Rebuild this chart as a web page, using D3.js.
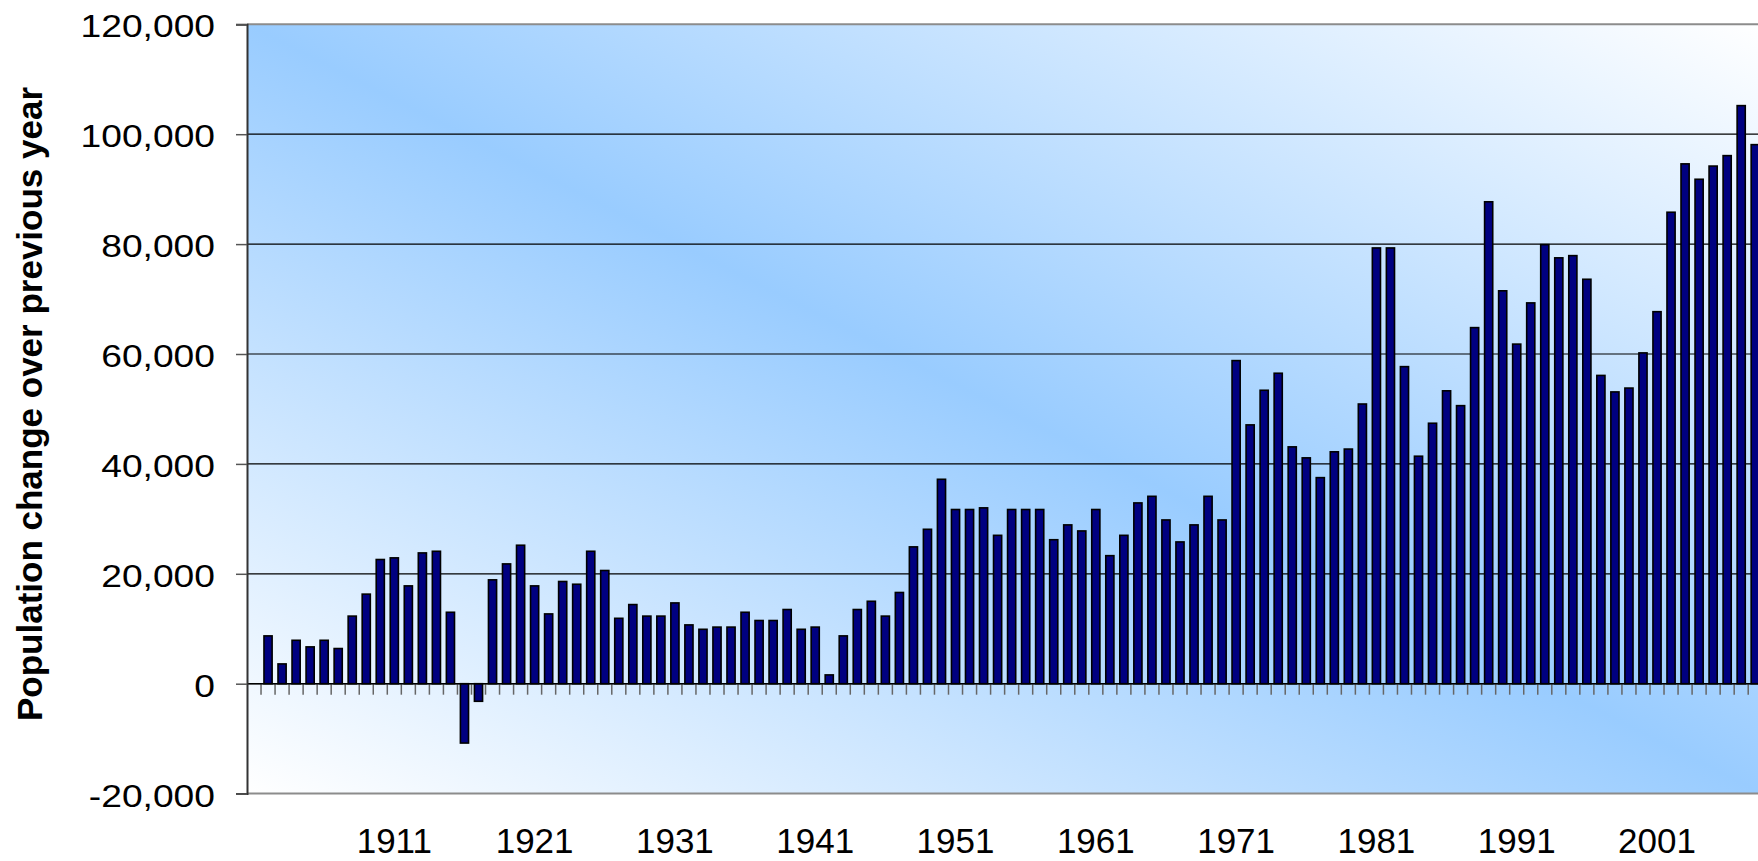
<!DOCTYPE html>
<html>
<head>
  <meta charset="utf-8">
  <style>
    body {
      margin: 0;
      background-color: #ffffff;
    }

    #chart_bar {
      width: 1758px;
      height: 861px;
      overflow: hidden;
    }

    svg text {
      font-family: "Liberation Sans", Arial, sans-serif;
    }
  </style>
</head>
<body>

  <div id="chart_bar"></div>

  <script src="https://d3js.org/d3.v7.min.js"></script>
  <script>

    // Categories start in 1901 (empty slot), last visible one is 2008
    var firstYear = 1901
    var years = d3.range(firstYear, 2009)

    // Population change over previous year, one per year (1901 has no bar)
    var changes = [
      null,
      8700, 3600, 7900, 6700, 7900, 6400, 12300, 16300, 22600,             // 1902-1910
      22900, 17800, 23800, 24100, 13000, -10800, -3200, 18900, 21800, 25200, // 1911-1920
      17800, 12700, 18600, 18100, 24100, 20600, 11900, 14400, 12300, 12300,  // 1921-1930
      14700, 10700, 9900, 10300, 10300, 13000, 11500, 11500, 13500, 9900,    // 1931-1940
      10300, 1600, 8700, 13500, 15000, 12300, 16600, 24900, 28100, 37200,    // 1941-1950
      31700, 31700, 32000, 27000, 31700, 31700, 31700, 26200, 28900, 27800,  // 1951-1960
      31700, 23300, 27000, 32900, 34100, 29800, 25800, 28900, 34100, 29800,  // 1961-1970
      58800, 47100, 53400, 56500, 43100, 41100, 37500, 42200, 42700, 50900,  // 1971-1980
      79300, 79300, 57700, 41400, 47400, 53300, 50600, 64800, 87700, 71500,  // 1981-1990
      61800, 69300, 79900, 77500, 77900, 73600, 56100, 53100, 53800, 60200,  // 1991-2000
      67700, 85800, 94600, 91800, 94200, 96100, 105200, 98100                // 2001-2008
    ]

    var yearLabels = [1911, 1921, 1931, 1941, 1951, 1961, 1971, 1981, 1991, 2001]
    var yTicks = [-20000, 0, 20000, 40000, 60000, 80000, 100000, 120000]
    var yTitle = "Population change over previous year"

    var data = years.map(function (yr, i) {
      return {year: yr, value: changes[i]}
    })

    var draw_chart = function () {
      var W = 1758, H = 861
      var left = 247, top = 24.3, bottom = 793.6
      var step = 14.03
      var right = left + years.length * step

      d3.selectAll('svg').remove()

      var svg = d3.select("#chart_bar")
          .append('svg')
          .attr("width", W)
          .attr("height", H)

      // diagonal gradient: white corners, blue along the main diagonal
      var defs = svg.append("defs")
      var grad = defs.append("linearGradient")
          .attr("id", "plotBg")
          .attr("x1", 0).attr("y1", 1)
          .attr("x2", 1).attr("y2", 0)
      grad.append("stop").attr("offset", "0%").attr("stop-color", "#ffffff")
      grad.append("stop").attr("offset", "50%").attr("stop-color", "#99ccff")
      grad.append("stop").attr("offset", "100%").attr("stop-color", "#ffffff")

      var x = d3.scaleBand()
          .domain(years)
          .range([left, right])
          .paddingInner(0.42)
          .paddingOuter(0.21)

      var y = d3.scaleLinear()
          .domain([-20000, 120000])
          .range([bottom, top])

      svg.append('rect')
          .attr('x', left)
          .attr('y', top)
          .attr('width', right - left)
          .attr('height', bottom - top)
          .attr('fill', 'url(#plotBg)')

      // gridlines
      svg.append("g")
          .selectAll("line")
          .data(yTicks.filter(d => d > -20000 && d < 120000))
          .enter().append("line")
          .attr("x1", left)
          .attr("x2", right)
          .attr("y1", d => y(d))
          .attr("y2", d => y(d))
          .attr("stroke", "#000")
          .attr("stroke-width", 1.2)

      // top / bottom border of plot
      svg.append("g")
          .selectAll("line")
          .data([120000, -20000])
          .enter().append("line")
          .attr("x1", left)
          .attr("x2", right)
          .attr("y1", d => y(d))
          .attr("y2", d => y(d))
          .attr("stroke", "#8c8c8c")
          .attr("stroke-width", 2)

      // bars
      var pad = x.step() * x.paddingInner() / 2
      svg.append("g")
          .selectAll("rect")
          .data(data.filter(d => d.value !== null))
          .enter().append("rect")
          .attr("x", d => x(d.year))
          .attr("y", d => y(Math.max(0, d.value)))
          .attr("width", x.bandwidth())
          .attr("height", d => Math.abs(y(d.value) - y(0)))
          .attr("fill", "#000080")
          .attr("stroke", "#000")
          .attr("stroke-width", 1.6)

      // category ticks between years, hanging under the zero line
      svg.append("g")
          .selectAll("line")
          .data(years.slice(1))
          .enter().append("line")
          .attr("x1", d => x(d) - pad)
          .attr("x2", d => x(d) - pad)
          .attr("y1", y(0))
          .attr("y2", y(0) + 11)
          .attr("stroke", "#666")
          .attr("stroke-width", 1.5)

      // zero line
      svg.append("line")
          .attr("x1", left)
          .attr("x2", right)
          .attr("y1", y(0))
          .attr("y2", y(0))
          .attr("stroke", "#000")
          .attr("stroke-width", 1.5)

      // y axis (labels a bit wide, like the original stretched picture)
      var fmt = d3.format(",")
      var yAxis = d3.axisLeft(y)
          .tickValues(yTicks)
          .tickSize(11)
          .tickFormat(d => fmt(d).replace("\u2212", "-"))

      var gy = svg.append("g")
          .attr("transform", "translate(" + left + ",0)")
          .call(yAxis)
      gy.select(".domain")
          .attr("stroke", "#333")
          .attr("stroke-width", 2)
      gy.selectAll(".tick line")
          .attr("stroke", "#555")
          .attr("stroke-width", 1.5)
      gy.selectAll("text")
          .attr("fill", "#000")
          .attr("x", 0)
          .attr("dy", "0.4em")
          .attr("transform", "translate(-32,0) scale(1.2,1)")
          .style("font-size", "31px")

      // x labels, every ten years under the plot
      var xAxis = d3.axisBottom(x)
          .tickValues(yearLabels)
          .tickSize(0)
          .tickPadding(35)

      var gx = svg.append("g")
          .attr("transform", "translate(0," + bottom + ")")
          .call(xAxis)
      gx.select(".domain").remove()
      gx.selectAll("text")
          .attr("fill", "#000")
          .style("font-size", "35px")

      svg.append("text")
          .attr("text-anchor", "middle")
          .attr("transform", "translate(42,404) rotate(-90)")
          .style("font-size", "35px")
          .style("font-weight", "bold")
          .text(yTitle)

    } // end of draw_chart()

    draw_chart()

  </script>

</body>
</html>
